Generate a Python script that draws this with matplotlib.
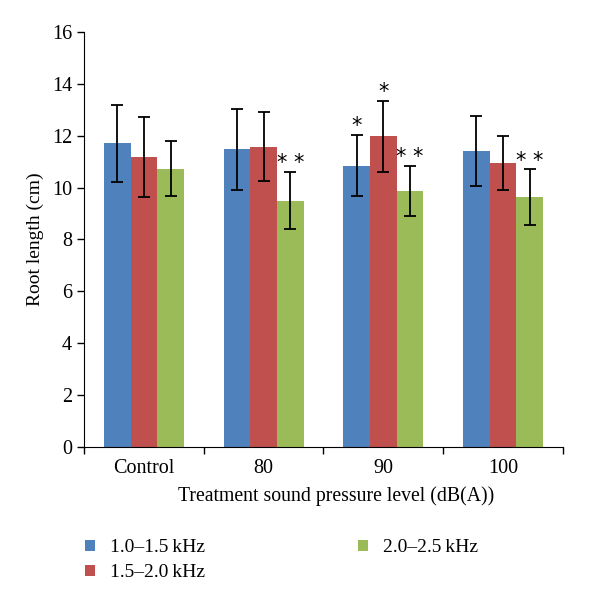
import matplotlib.pyplot as plt
import numpy as np

plt.rcParams['font.family'] = ['Liberation Serif', 'DejaVu Serif']

groups = ['Control', '80', '90', '100']
series = ['1.0\u20131.5\u2009kHz', '1.5\u20132.0\u2009kHz', '2.0\u20132.5\u2009kHz']
colors = ['#4F81BD', '#C0504D', '#9BBB59']

means = [
    [11.70, 11.47, 10.85, 11.40],
    [11.17, 11.58, 11.97, 10.95],
    [10.73, 9.50, 9.88, 9.62],
]
errs = [
    [1.50, 1.57, 1.18, 1.35],
    [1.55, 1.32, 1.37, 1.05],
    [1.05, 1.10, 0.97, 1.08],
]
# significance marks: (series index, group index, text)
marks = [(2, 1, '* *'), (0, 2, '*'), (1, 2, '*'), (2, 2, '* *'), (2, 3, '* *')]

fig = plt.figure(figsize=(6, 6.02), dpi=100)
ax = fig.add_axes([0.14, 0.2575, 0.798, 0.6895])

x = np.arange(len(groups))
w = 0.223
for i in range(3):
    pos = x + (i - 1) * w
    ax.bar(pos, means[i], w, color=colors[i], label=series[i])
    ax.errorbar(pos, means[i], yerr=errs[i], fmt='none', ecolor='black',
                elinewidth=1.3, capsize=4, capthick=1.3)

for s, g, t in marks:
    top = means[s][g] + errs[s][g]
    ax.text(g + (s - 1) * w, top - 0.05, t, ha='center', va='bottom',
            fontsize=15, family='DejaVu Sans', color='black')

ax.set_xlim(-0.5, 3.5)
ax.set_ylim(0, 16)
ax.set_yticks(range(0, 17, 2))
ax.set_xticks(x)
ax.set_xticklabels(groups, fontsize=14.5)
ax.set_xticks(np.arange(-0.5, 4, 1), minor=True)
ax.tick_params(axis='x', which='major', length=0, pad=9)
ax.tick_params(axis='x', which='minor', length=5, direction='out', width=1)
ax.tick_params(axis='y', labelsize=14.5, length=5, direction='out', width=1)
ax.spines['top'].set_visible(False)
ax.spines['right'].set_visible(False)
ax.set_ylabel('Root length (cm)', fontsize=14, labelpad=6)
ax.set_xlabel('Treatment sound pressure level (dB(A))', fontsize=14.2, labelpad=3)
ax.xaxis.set_label_coords(0.526, -0.095)

fig.legend(loc='upper left', bbox_to_anchor=(0.113, 0.133), ncol=2, frameon=False,
           fontsize=14, handlelength=0.5, handleheight=0.5, columnspacing=7.9,
           labelspacing=0.4, handletextpad=0.75)

fig.savefig('out.png', dpi=100)
